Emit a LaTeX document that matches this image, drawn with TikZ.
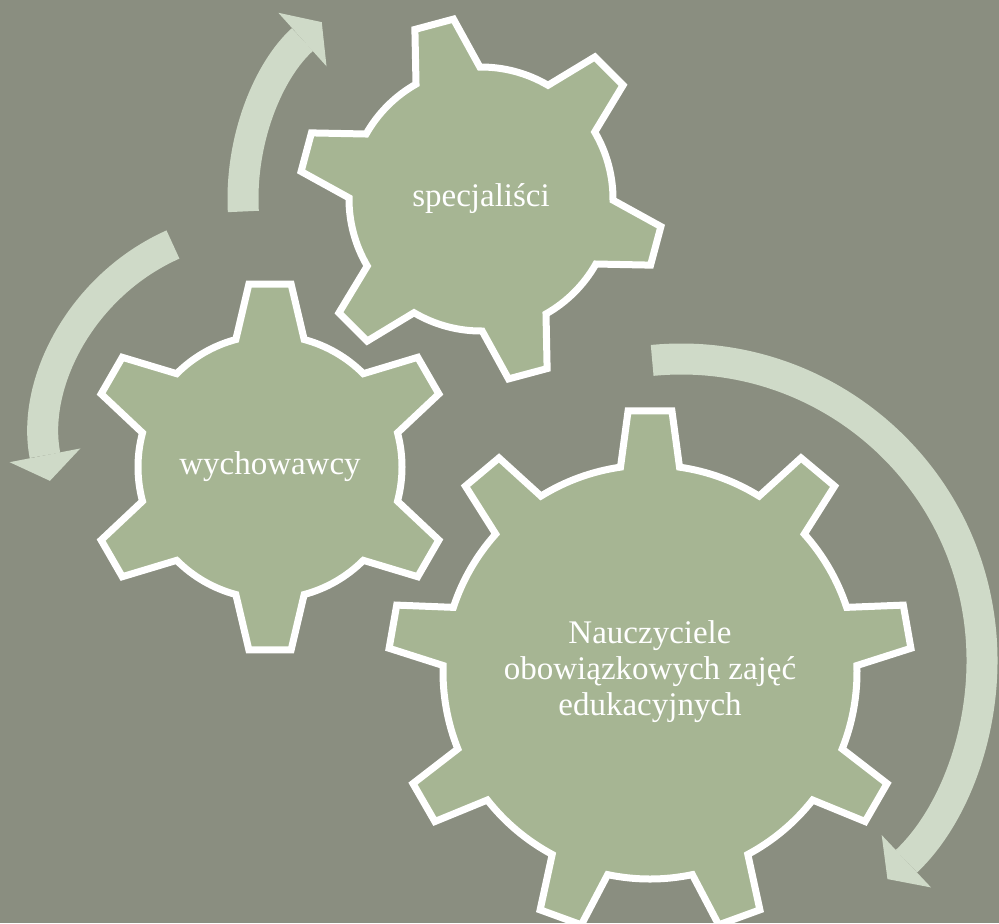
\documentclass[tikz,border=0pt]{standalone}
\usepackage{fontspec}
\setmainfont{Liberation Serif}
\usetikzlibrary{arrows.meta,calc}
\definecolor{bgcolor}{RGB}{138,142,128}
\definecolor{gearcolor}{RGB}{166,181,147}
\definecolor{arrowcolor}{RGB}{207,218,200}
\tikzset{%
	gearline/.style = {draw=white, fill=gearcolor, line width=3.5pt}, % gear body
	gtext/.style    = {text=white, align=center, font=\fontsize{16.5}{18}\selectfont}, % gear text
	turn/.style     = {draw=arrowcolor, line width=15.5pt, -{Triangle[width=36pt,length=13pt,line width=0pt]}},
}
% centre, teeth, first tooth, root radius, tip radius, root half-angle, tip half-angle
\newcommand{\cogwheel}[7]{%
	\draw[gearline] ([shift={(#3-#6:#4)}]#1)
	\foreach \k [evaluate=\k as \t using #3+(\k-1)*360/#2] in {1,...,#2} {
		-- ([shift={(\t-#7:#5)}]#1) -- ([shift={(\t+#7:#5)}]#1) -- ([shift={(\t+#6:#4)}]#1)
		arc[start angle=\t+#6, end angle=\t+360/#2-#6, radius=#4]
	} -- cycle;}

\begin{document}
\begin{tikzpicture}[x=0.5pt,y=0.5pt]
	\fill[bgcolor] (0,0) rectangle (999,-923);
	\useasboundingbox (0,0) rectangle (999,-923);
	
	\coordinate (cspec) at (481,-199);
	\coordinate (cwych) at (270,-467);
	\coordinate (cnau) at (650,-672);
	\coordinate (lturn) at (260,-440);
	\coordinate (rturn) at (681,-660);
	
	\draw[turn] ([shift={(183:238)}]cspec) arc[start angle=183, end angle=132, radius=238];
	\draw[turn] ([shift={(114:214)}]lturn) arc[start angle=114, end angle=191, radius=214];
	\draw[turn] ([shift={(95.5:301)}]rturn) arc[start angle=95.5, end angle=-46.7, radius=301];
	
	\cogwheel{cspec}{6}{105}{132}{182}{14.5}{6.3}
	\cogwheel{cwych}{6}{90}{132}{184}{15}{6.6}
	\cogwheel{cnau}{9}{90}{207}{262}{8.2}{4.8}
	
	\node[gtext] (spec) at (cspec) {specjaliści};
	\node[gtext] (wych) at (cwych) {wychowawcy};
	\node[gtext] (nau) at (cnau) {Nauczyciele\\obowiązkowych zajęć\\edukacyjnych};
\end{tikzpicture}
\end{document}
